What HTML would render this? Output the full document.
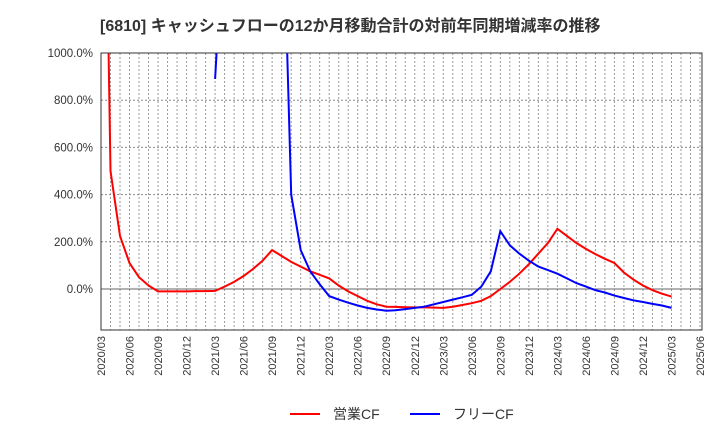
<!DOCTYPE html>
<html><head><meta charset="utf-8"><style>
body{margin:0;background:#fff;font-family:"Liberation Sans","Noto Sans CJK JP",sans-serif}
</style></head><body>
<svg id="c" width="720" height="440" xmlns="http://www.w3.org/2000/svg">
<text x="100" y="31" font-size="16" font-weight="bold" fill="#333" font-family="Liberation Sans,Noto Sans CJK JP,sans-serif">[6810]  キャッシュフローの12か月移動合計の対前年同期増減率の推移</text>
<g id="grid"></g><g id="series"></g><g id="axes"></g>
<g>
<line x1="290" y1="414" x2="320" y2="414" stroke="#f00" stroke-width="2"/>
<text x="333" y="419" font-size="14" fill="#333">営業CF</text>
<line x1="410" y1="414" x2="440" y2="414" stroke="#00f" stroke-width="2"/>
<text x="453" y="419" font-size="14" fill="#333">フリーCF</text>
</g>
</svg>
<script>
const months=[];for(let y=2020;y<=2025;y++)for(let m=1;m<=12;m++){if((y==2020&&m<3)||(y==2025&&m>6))continue;months.push(y+'/'+String(m).padStart(2,'0'));}
const yTicks=[0,200,400,600,800,1000];
const opCF=[3000,500,225,110,50,15,-10,-10,-10,-10,-9,-9,-8,10,30,55,85,120,165,140,115,95,75,60,45,15,-10,-30,-50,-65,-75,-76,-77,-78,-78,-79,-80,-75,-68,-60,-50,-30,0,30,65,105,150,195,255,225,195,170,148,128,110,70,40,15,-5,-20,-32];
const freeCF=[null,null,null,null,null,null,null,null,null,null,null,null,890,1600,null,null,null,null,null,1830,400,165,75,20,-30,-45,-58,-70,-80,-87,-92,-90,-85,-80,-75,-65,-55,-45,-35,-25,10,75,245,185,150,120,95,80,65,45,25,10,-5,-15,-28,-38,-48,-55,-63,-70,-80];
const X0=101,X1=702,Y0=53,Y1=330;
const xs=i=>X0+i*(X1-2-X0)/(months.length-1);
const ys=v=>289-v*0.236;
const NS='http://www.w3.org/2000/svg';
function mk(t,a,p){const e=document.createElementNS(NS,t);for(const k in a)e.setAttribute(k,a[k]);p.appendChild(e);return e;}
const grid=document.getElementById('grid'),ser=document.getElementById('series'),ax=document.getElementById('axes');
months.forEach((m,i)=>{const l=mk('line',{x1:xs(i),x2:xs(i),y1:Y0,y2:Y1,stroke:'#999','stroke-dasharray':'2,2','stroke-width':1},grid);


if(i%3==0){const t=mk('text',{x:0,y:0,'font-size':11,fill:'#333','text-anchor':'end',transform:`translate(${xs(i)+4},${Y1+6}) rotate(-90)`},ax);t.textContent=m;

}});
yTicks.forEach(v=>{const l=mk('line',{x1:X0,x2:X1,y1:ys(v),y2:ys(v),stroke:v==0?'#666':'#888','stroke-dasharray':v==0?'':'2,2','stroke-width':1},grid);


const t=mk('text',{x:X0-8,y:ys(v)+4,'font-size':11.5,fill:'#333','text-anchor':'end'},ax);t.textContent=v.toFixed(1)+'%';

});
const fr=mk('rect',{x:X0,y:Y0,width:X1-X0,height:Y1-Y0,fill:'none',stroke:'#333','stroke-width':1},ax);


mk('clipPath',{id:'cp'},ser).appendChild(document.createElementNS(NS,'rect'));
const cr=ser.querySelector('rect');cr.setAttribute('x',X0);cr.setAttribute('y',Y0);cr.setAttribute('width',X1-X0);cr.setAttribute('height',Y1-Y0);
function draw(arr,col,name){let d='',pen=false;arr.forEach((v,i)=>{if(v==null){pen=false;return;}d+=(pen?'L':'M')+xs(i).toFixed(1)+','+ys(v).toFixed(1);pen=true;});
const p=mk('path',{d:d,fill:'none',stroke:col,'stroke-width':2,'clip-path':'url(#cp)'},ser);

}
draw(opCF,'#f00','operating-cf-line');
draw(freeCF,'#00f','free-cf-line');
</script>
</body></html>
